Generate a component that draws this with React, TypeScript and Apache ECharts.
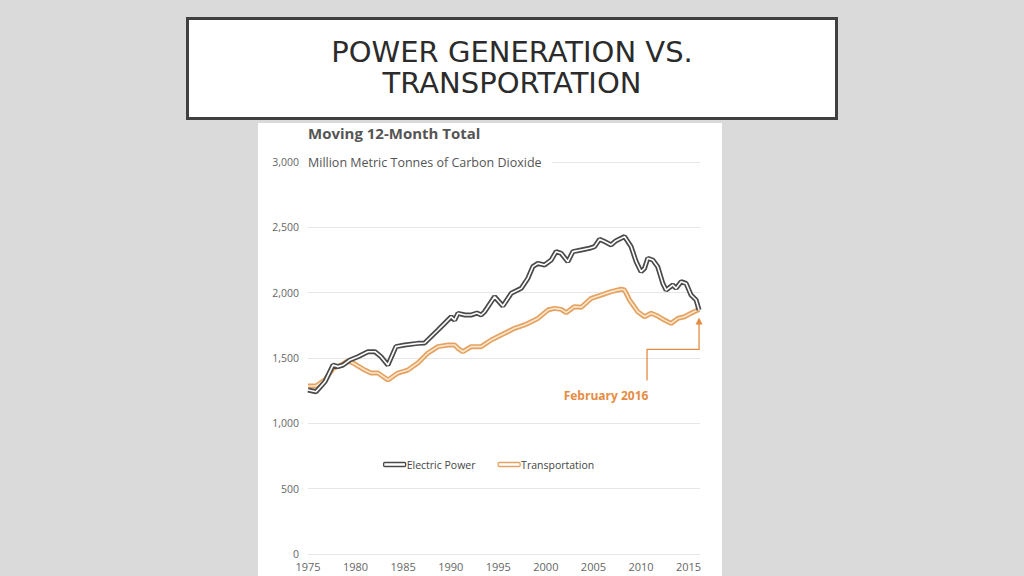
import React, { useEffect, useRef } from "react";
import * as echarts from "echarts";

// Moving 12-month total, million metric tonnes of CO2
const electricYears = [1975.0, 1975.84, 1976.79, 1977.63, 1978.15, 1978.68, 1979.41, 1980.25, 1981.3, 1982.04, 1982.67, 1983.4, 1984.24, 1985.16, 1986.55, 1987.26, 1988.66, 1989.36, 1990.05, 1990.41, 1990.76, 1991.5, 1992.12, 1992.75, 1993.2, 1993.56, 1994.61, 1995.48, 1996.36, 1997.41, 1998.11, 1998.63, 1999.16, 1999.86, 2000.56, 2001.08, 2001.61, 2002.31, 2002.84, 2003.71, 2004.59, 2005.12, 2005.64, 2006.17, 2006.86, 2007.38, 2008.27, 2008.96, 2009.49, 2010.0, 2010.37, 2010.71, 2011.24, 2011.76, 2012.29, 2012.64, 2013.34, 2013.69, 2014.21, 2014.74, 2015.26, 2015.79, 2016.1];
const electricValues = [1255, 1242, 1319, 1446, 1434, 1446, 1485, 1510, 1548, 1548, 1510, 1446, 1587, 1600, 1612, 1615, 1714, 1765, 1816, 1790, 1842, 1829, 1829, 1844, 1829, 1854, 1969, 1898, 1995, 2033, 2110, 2199, 2224, 2212, 2250, 2314, 2301, 2237, 2314, 2327, 2340, 2352, 2408, 2391, 2365, 2398, 2429, 2352, 2237, 2160, 2186, 2263, 2250, 2199, 2071, 2020, 2059, 2033, 2084, 2071, 1982, 1944, 1867];

const transportYears = [1975.0, 1975.84, 1976.79, 1977.63, 1978.47, 1979.2, 1979.73, 1980.96, 1981.62, 1982.35, 1983.4, 1984.45, 1985.5, 1986.55, 1987.6, 1988.66, 1989.71, 1990.41, 1990.76, 1991.28, 1992.15, 1993.2, 1994.25, 1995.3, 1996.71, 1997.76, 1999.16, 2000.21, 2000.91, 2001.61, 2002.13, 2003.01, 2003.71, 2004.76, 2005.81, 2006.86, 2007.91, 2008.27, 2008.79, 2009.66, 2010.37, 2011.06, 2011.76, 2012.47, 2013.16, 2013.87, 2014.57, 2015.26, 2016.1];
const transportValues = [1286, 1286, 1332, 1421, 1446, 1478, 1462, 1408, 1385, 1385, 1332, 1385, 1408, 1462, 1538, 1587, 1600, 1600, 1574, 1548, 1587, 1587, 1638, 1676, 1727, 1753, 1803, 1867, 1880, 1872, 1847, 1893, 1888, 1956, 1982, 2008, 2026, 2020, 1944, 1854, 1816, 1842, 1821, 1790, 1765, 1803, 1816, 1842, 1872];

const seriesNames = ["Electric Power", "Transportation"];
const yTicks = [0, 500, 1000, 1500, 2000, 2500, 3000];
const xTickLabels = ["1975", "1980", "1985", "1990", "1995", "2000", "2005", "2010", "2015"];
const slideTitle = ["POWER GENERATION VS.", "TRANSPORTATION"];
const chartTitle = "Moving 12-Month Total";
const chartSubtitle = "Million Metric Tonnes of Carbon Dioxide";
const annotationText = "February 2016";

const DARK = "#4a4a4a";
const ORANGE = "#e3a262";
const ORANGE_TEXT = "#e58c43";
const LABEL = "#666666";
const FONT = "'Open Sans', sans-serif";
const TITLE_FONT = "29px 'DejaVu Sans', sans-serif";

export default function App() {
  const ref = useRef<HTMLDivElement>(null);

  useEffect(() => {
    if (!ref.current) return;
    const chart = echarts.init(ref.current, undefined, { renderer: "svg" });
    const zip = (xs: number[], ys: number[]) => xs.map((x, i) => [x, ys[i]]);
    const electric = zip(electricYears, electricValues);
    const transport = zip(transportYears, transportValues);

    const baseOption: any = {
      animation: false,
      backgroundColor: "#dadada",
      grid: { left: 308, right: 324, top: 162, bottom: 22 },
      xAxis: {
        type: "value",
        min: 1975,
        max: 2016.2,
        interval: 5,
        axisLine: { show: false },
        axisTick: { show: false },
        splitLine: { show: false },
        axisLabel: {
          color: LABEL,
          fontFamily: FONT,
          fontSize: 11,
          margin: 7,
          lineHeight: 11,
          showMaxLabel: false,
          formatter: (v: number) => {
            const s = String(Math.round(v));
            return xTickLabels.includes(s) ? s : "";
          },
        },
      },
      yAxis: {
        type: "value",
        min: yTicks[0],
        max: yTicks[yTicks.length - 1],
        interval: 500,
        axisLine: { show: false },
        axisTick: { show: false },
        splitLine: { lineStyle: { color: "#e6e6e6", width: 1 } },
        axisLabel: {
          color: LABEL,
          fontFamily: FONT,
          fontSize: 10.5,
          margin: 9,
          lineHeight: 10,
          formatter: (v: number) => v.toLocaleString("en-US"),
        },
      },
      legend: {
        left: 378,
        top: 454,
        itemWidth: 22,
        itemHeight: 4,
        itemGap: 22,
        icon: "roundRect",
        textStyle: { color: "#444", fontFamily: FONT, fontSize: 10.5, padding: [0, 0, 0, -4] },
        data: [
          { name: seriesNames[0], itemStyle: { color: "#fff", borderColor: DARK, borderWidth: 1.3 } },
          { name: seriesNames[1], itemStyle: { color: "#fff", borderColor: ORANGE, borderWidth: 1.3 } },
        ],
      },
      series: [
        {
          name: seriesNames[1],
          type: "line",
          data: transport,
          showSymbol: false,
          z: 2,
          lineStyle: { color: ORANGE, width: 5 },
          itemStyle: { color: ORANGE },
        },
        {
          name: "t-inner",
          type: "line",
          data: transport,
          showSymbol: false,
          silent: true,
          z: 3,
          lineStyle: { color: "#fbe6cc", width: 1.6 },
        },
        {
          name: seriesNames[0],
          type: "line",
          data: electric,
          showSymbol: false,
          z: 4,
          lineStyle: { color: DARK, width: 5 },
          itemStyle: { color: DARK },
        },
        {
          name: "e-inner",
          type: "line",
          data: electric,
          showSymbol: false,
          silent: true,
          z: 5,
          lineStyle: { color: "#ffffff", width: 1.6 },
        },
      ],
    };
    chart.setOption(baseOption);

    const last = transport[transport.length - 1];
    const tip = chart.convertToPixel({ gridIndex: 0 }, last) as number[];
    const tipX = tip[0];
    const tipY = tip[1] + 8;
    const elbowY = tipY + 32;
    const leftX = tipX - 52;
    const bottomY = elbowY + 31;

    chart.setOption({
      graphic: [
        { type: "rect", z: -10, shape: { x: 258, y: 123, width: 464, height: 460 }, style: { fill: "#ffffff" } },
        { type: "rect", z: 100, shape: { x: 187.5, y: 18.5, width: 649, height: 100 }, style: { fill: "#ffffff", stroke: "#404040", lineWidth: 3 } },
        { type: "text", z: 101, x: 512, y: 52, style: { text: slideTitle[0], fill: "#2b2b2b", font: TITLE_FONT, lineHeight: 30, align: "center", verticalAlign: "middle" } },
        { type: "text", z: 101, x: 512, y: 83, style: { text: slideTitle[1], fill: "#2b2b2b", font: TITLE_FONT, lineHeight: 30, align: "center", verticalAlign: "middle" } },
        { type: "text", z: 101, x: 308, y: 133, style: { text: chartTitle, fill: "#555", font: `bold 15px ${FONT}`, verticalAlign: "middle" } },
        { type: "text", z: 101, x: 308, y: 162, style: { text: chartSubtitle, fill: "#555", font: `12.5px ${FONT}`, verticalAlign: "middle", backgroundColor: "#ffffff", padding: [2, 10, 2, 0] } },
        { type: "text", z: 101, x: 606, y: 395, style: { text: annotationText, fill: ORANGE_TEXT, font: `bold 12px ${FONT}`, align: "center", verticalAlign: "middle" } },
        {
          type: "polyline", z: 101,
          shape: { points: [[leftX, bottomY], [leftX, elbowY], [tipX, elbowY], [tipX, tipY + 6]] },
          style: { stroke: ORANGE_TEXT, lineWidth: 1.3, fill: null },
        },
        {
          type: "polygon", z: 101,
          shape: { points: [[tipX - 3.5, tipY + 7], [tipX + 3.5, tipY + 7], [tipX, tipY]] },
          style: { fill: ORANGE_TEXT },
        },
      ],
    });

    return () => chart.dispose();
  }, []);

  return <div ref={ref} style={{ position: "absolute", left: 0, top: 0, width: 1024, height: 576 }} />;
}
